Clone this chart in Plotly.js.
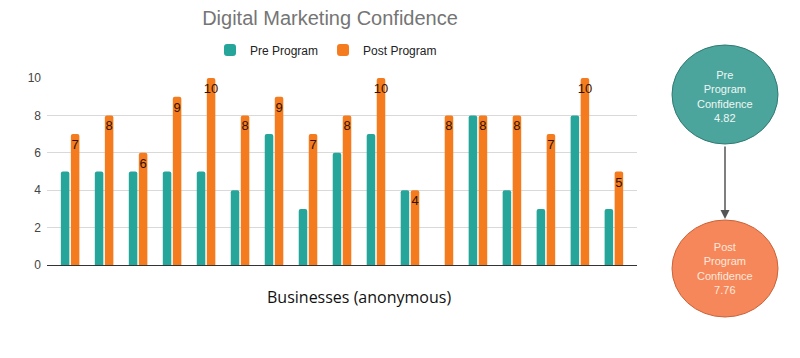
<!DOCTYPE html>
<html>
<head>
<meta charset="utf-8">
<script src="https://cdn.plot.ly/plotly-3.0.1.min.js"></script>
<style>html,body{margin:0;padding:0;background:#fff;}#chart{width:800px;height:358px;}</style>
</head>
<body>
<div id="chart"></div>
<script>
const businesses = [1,2,3,4,5,6,7,8,9,10,11,12,13,14,15,16,17];
const preProgram = [5,5,5,5,5,4,7,3,6,7,4,0,8,4,3,8,3];
const postProgram = [7,8,6,9,10,8,9,7,8,10,4,8,8,8,7,10,5];
const yTicks = [0,2,4,6,8,10];

const mean = a => a.reduce((s,v)=>s+v,0)/a.length;
const preMean = mean(preProgram).toFixed(2);
const postMean = mean(postProgram).toFixed(2);

const L = 47, R = 637, T = 78, B = 265;
const px = v => (v - L) / (R - L);
const py = v => (B - v) / (B - T);

const traces = [
  {type:'bar', name:'Pre Program', x:businesses, y:preProgram,
   marker:{color:'#26a69a', cornerradius:2}, hoverinfo:'y'},
  {type:'bar', name:'Post Program', x:businesses, y:postProgram,
   marker:{color:'#f47b1e', cornerradius:2},
   text:postProgram.map(String), textposition:'inside', insidetextanchor:'end',
   constraintext:'none', cliponaxis:false,
   textfont:{family:'Arial, Liberation Sans, sans-serif', size:13, color:'#351200'},
   hoverinfo:'y'}
];

const layout = {
  width:800, height:358,
  margin:{l:L, r:800-R, t:T, b:358-B},
  paper_bgcolor:'#fff', plot_bgcolor:'#fff',
  title:{text:'Digital Marketing Confidence', x:330/800, xanchor:'center', y:1-18/358, yanchor:'middle',
    font:{family:'Arial, Liberation Sans, sans-serif', size:20, color:'#757575'}},
  showlegend:true,
  legend:{orientation:'h', x:px(326), xanchor:'center', y:py(50), yanchor:'middle',
    itemwidth:30, tracegroupgap:0,
    font:{family:'Arial, Liberation Sans, sans-serif', size:12, color:'#222'}},
  barmode:'group', bargap:0.41, bargroupgap:0.15,
  xaxis:{range:[0.32,17.68], showticklabels:false, showgrid:false, zeroline:false,
    showline:false, ticks:'', fixedrange:true},
  yaxis:{range:[0,10], tickvals:yTicks, showgrid:true, gridcolor:'#d9d9d9', gridwidth:1,
    zeroline:true, zerolinecolor:'#333', zerolinewidth:1, showline:false, ticklabelstandoff:5,
    tickfont:{family:'Arial, Liberation Sans, sans-serif', size:12, color:'#444'}, ticks:'', ticklen:0},
  shapes:[
    {type:'circle', xref:'paper', yref:'paper', x0:px(672), x1:px(778), y0:py(144), y1:py(45),
     fillcolor:'#4ca59c', line:{color:'#2f7a72', width:1}},
    {type:'circle', xref:'paper', yref:'paper', x0:px(672), x1:px(778), y0:py(317), y1:py(220),
     fillcolor:'#f6875a', line:{color:'#c9643a', width:1}}
  ],
  annotations:[
    {xref:'paper', yref:'paper', x:px(359), y:py(297), text:'Businesses (anonymous)', showarrow:false,
     xanchor:'center', yanchor:'middle', font:{family:'Open Sans, sans-serif', size:16, color:'#111'}},
    {xref:'paper', yref:'paper', x:px(725), y:py(96), text:'Pre<br>Program<br>Confidence<br>'+preMean,
     showarrow:false, xanchor:'center', yanchor:'middle',
     font:{family:'Arial, Liberation Sans, sans-serif', size:11, color:'#eef7f5'}},
    {xref:'paper', yref:'paper', x:px(725), y:py(268), text:'Post<br>Program<br>Confidence<br>'+postMean,
     showarrow:false, xanchor:'center', yanchor:'middle',
     font:{family:'Arial, Liberation Sans, sans-serif', size:11, color:'#fde8dc'}},
    {xref:'paper', yref:'paper', axref:'paper', ayref:'paper', x:px(725), y:py(219), ax:px(725), ay:py(145),
     text:'', showarrow:true, arrowhead:2, arrowsize:1.2, arrowwidth:1.5, arrowcolor:'#555'}
  ]
};

Plotly.newPlot('chart', traces, layout, {displayModeBar:false, staticPlot:true});
</script>
</body>
</html>
